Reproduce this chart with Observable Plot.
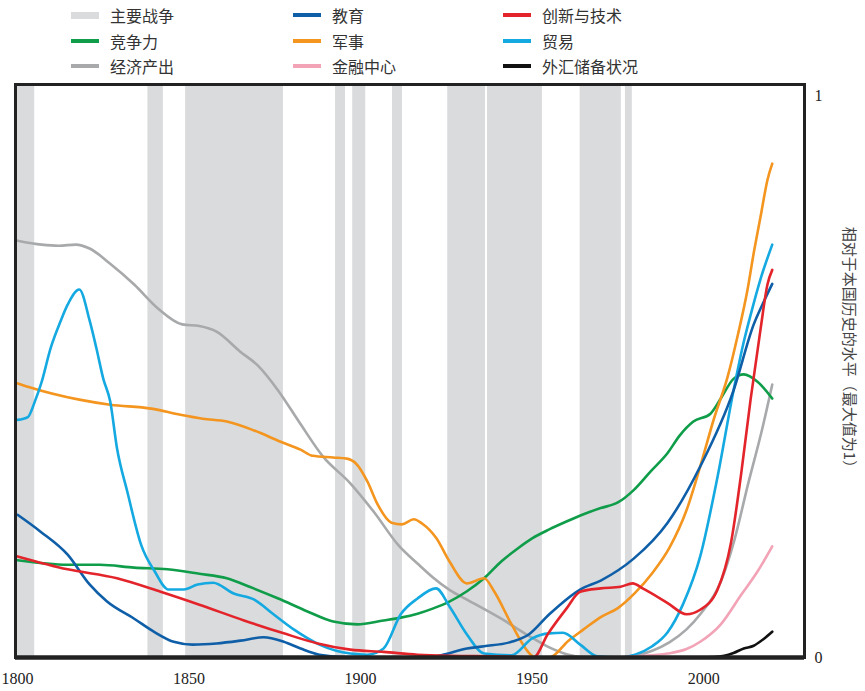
<!DOCTYPE html>
<html><head><meta charset="utf-8">
<script src="https://cdn.jsdelivr.net/npm/d3@7"></script>
<script src="https://cdn.jsdelivr.net/npm/@observablehq/plot@0.6"></script>
<style>
body{margin:0;background:#fff;}
#legend{position:relative;width:865px;height:78px;font-family:"Noto Sans CJK SC",sans-serif;font-size:16px;color:#333;}
.item{position:absolute;display:flex;align-items:center;height:22px;white-space:nowrap;}
.sw{width:28px;margin-right:11px;}
#chart svg{display:block;}
#chart svg g[aria-label="x-axis tick label"] text,
#chart svg g[aria-label="y-axis tick label"] text{font-family:"Liberation Serif","DejaVu Serif",serif !important;}
</style></head><body>
<div id="legend"></div>
<div id="chart"></div>
<script>
// ---- data ----
const xTicks = [1800, 1850, 1900, 1950, 2000];
const yTicks = [0, 1];
const yLabel = "相对于本国历史的水平（最大值为1）";

const warLabel = "主要战争";
const warStarts = [1800, 1838, 1849, 1892.7, 1897.7, 1909.3, 1925.4, 1937, 1964, 1977.2];
const warEnds   = [1805, 1842.5, 1877.5, 1895.6, 1901.5, 1912.2, 1936.4, 1953, 1976, 1979.2];

const seriesNames  = ["经济产出", "竞争力", "军事", "贸易", "教育", "创新与技术", "金融中心", "外汇储备状况"];
const seriesColors = ["#a7a9ab", "#0f9d4a", "#f3951f", "#14a9e1", "#0e5ea8", "#e3242b", "#f2a3b6", "#111111"];

const economy = [[1800,0.742],[1807,0.735],[1812,0.733],[1817,0.735],[1821,0.728],[1827,0.701],[1834,0.664],[1841,0.621],[1848,0.593],[1853,0.59],[1858,0.58],[1865,0.544],[1870,0.52],[1876,0.475],[1882,0.42],[1889,0.358],[1897,0.31],[1904,0.258],[1911,0.2],[1917,0.165],[1921,0.143],[1926,0.12],[1931,0.103],[1941,0.069],[1950,0.035],[1955,0.018],[1960,0.006],[1965,0.001],[1975,0],[1980,0.003],[1985,0.012],[1990,0.027],[1995,0.05],[1999,0.077],[2005,0.135],[2009,0.21],[2013,0.31],[2017,0.405],[2020,0.486]];
const competitiveness = [[1800,0.173],[1814.6,0.165],[1824,0.165],[1834,0.16],[1843.7,0.157],[1853,0.149],[1861,0.141],[1868,0.125],[1876,0.105],[1884.5,0.082],[1892,0.064],[1899,0.059],[1906.7,0.066],[1911.7,0.071],[1916.6,0.078],[1921,0.087],[1926,0.1],[1931,0.118],[1936,0.141],[1941,0.171],[1946,0.195],[1950,0.212],[1955,0.228],[1960,0.242],[1965,0.255],[1970,0.266],[1975,0.276],[1979.6,0.298],[1984.5,0.331],[1989.5,0.364],[1993,0.395],[1997,0.42],[2002,0.434],[2005,0.461],[2008.7,0.496],[2011.7,0.504],[2015.7,0.491],[2020,0.461]];
const military = [[1800,0.488],[1803,0.482],[1818,0.459],[1827,0.45],[1839,0.443],[1847.5,0.432],[1854,0.425],[1861,0.42],[1869,0.404],[1876.7,0.384],[1882.5,0.37],[1886,0.359],[1892,0.356],[1896,0.354],[1899,0.343],[1902,0.313],[1905,0.272],[1909,0.24],[1912,0.237],[1915.5,0.246],[1918,0.238],[1922,0.213],[1926,0.17],[1931,0.132],[1936,0.141],[1939,0.117],[1944,0.059],[1950,0.003],[1951,0],[1955,0],[1960.6,0.03],[1965,0.05],[1970,0.072],[1975,0.088],[1980,0.115],[1985,0.15],[1990,0.195],[1995,0.262],[1999,0.34],[2003,0.425],[2007,0.5],[2010,0.575],[2012.8,0.655],[2014.6,0.72],[2016.6,0.785],[2018.6,0.85],[2020,0.879]];
const trade = [[1800,0.423],[1803,0.428],[1805,0.455],[1807,0.49],[1809.6,0.55],[1812.5,0.598],[1814.6,0.628],[1818,0.655],[1821,0.6],[1823,0.55],[1825,0.496],[1827,0.456],[1829,0.372],[1832,0.295],[1836,0.201],[1840,0.153],[1844,0.121],[1848.5,0.121],[1852.5,0.13],[1857,0.133],[1863,0.114],[1869,0.103],[1874.6,0.077],[1880.5,0.05],[1888,0.023],[1897,0.007],[1902,0.005],[1906.7,0.016],[1911.7,0.077],[1916.6,0.105],[1922,0.123],[1926,0.09],[1931,0.041],[1936,0.007],[1944,0.004],[1950,0.034],[1955,0.043],[1959,0.044],[1964,0.023],[1969,0.002],[1975,0],[1980,0.005],[1985,0.02],[1989.5,0.045],[1994,0.095],[1999,0.18],[2004,0.32],[2008.7,0.475],[2011.7,0.562],[2013.7,0.61],[2016.6,0.674],[2020,0.735]];
const education = [[1800,0.254],[1806.7,0.224],[1814.6,0.183],[1821,0.13],[1826,0.1],[1834,0.069],[1839.7,0.046],[1845.5,0.028],[1851,0.023],[1858,0.025],[1865,0.03],[1871.7,0.036],[1877.6,0.028],[1882.5,0.016],[1888,0.005],[1895,0.001],[1920,0],[1924,0.005],[1931,0.016],[1936,0.02],[1944,0.028],[1949,0.041],[1955,0.077],[1964,0.121],[1970,0.137],[1979.6,0.176],[1989.5,0.24],[1999,0.34],[2008.7,0.475],[2014.6,0.593],[2017.5,0.633],[2020,0.665]];
const innovation = [[1800,0.18],[1814.6,0.157],[1829,0.141],[1841.7,0.117],[1853,0.094],[1866,0.066],[1877.6,0.043],[1887.5,0.025],[1897,0.014],[1906.7,0.01],[1916.6,0.005],[1926,0.003],[1940,0.002],[1950.4,0],[1954.5,0.041],[1960,0.087],[1964,0.117],[1970,0.123],[1975.8,0.126],[1979.3,0.132],[1982.5,0.122],[1989.5,0.097],[1995,0.077],[1999,0.085],[2004,0.12],[2008,0.205],[2011,0.33],[2013.7,0.46],[2016.6,0.585],[2018.6,0.664],[2020,0.69]];
const finance = [[1920,0],[1950,0],[1975,0],[1980,0.002],[1989.5,0.007],[1995,0.015],[1999,0.028],[2005,0.059],[2011,0.112],[2015.7,0.153],[2020,0.198]];
const reserves = [[1960,0],[1995,0],[2003,0.001],[2006,0.003],[2008.7,0.008],[2011.7,0.016],[2014.6,0.021],[2017.5,0.033],[2020,0.046]];

const seriesData = [economy, competitiveness, military, trade, education, innovation, finance, reserves];

// legend layout order (rows x columns)
const legendOrder = [warLabel, "教育", "创新与技术", "竞争力", "军事", "贸易", "经济产出", "金融中心", "外汇储备状况"];

// ---- build ----
const wars = warStarts.map((s, i) => ({start: s, end: warEnds[i]}));
const rows = seriesNames.flatMap((name, i) => seriesData[i].map(([year, value]) => ({series: name, year, value})));
const colorOf = Object.fromEntries(seriesNames.map((n, i) => [n, seriesColors[i]]));

const legend = document.getElementById("legend");
const colLeft = [71, 293, 503];
const rowMid = [15, 41, 66];
legendOrder.forEach((name, k) => {
  const r = Math.floor(k / 3), c = k % 3;
  const item = document.createElement("div");
  item.className = "item";
  item.style.left = colLeft[c] + "px";
  item.style.top = (rowMid[r] - 11) + "px";
  const sw = document.createElement("div");
  sw.className = "sw";
  if (name === warLabel) { sw.style.height = "7px"; sw.style.background = "#d9dbdc"; }
  else { sw.style.height = "4px"; sw.style.background = colorOf[name]; }
  const tx = document.createElement("span");
  tx.textContent = name;
  item.appendChild(sw); item.appendChild(tx);
  legend.appendChild(item);
});

const serif = "Liberation Serif";
const chart = Plot.plot({
  width: 865, height: 613,
  marginTop: 6, marginBottom: 34, marginLeft: 15, marginRight: 61,
  x: {domain: [1799.4, 2029.4]},
  y: {domain: [0, 1.02]},
  color: {domain: seriesNames, range: seriesColors},
  style: {fontSize: "16px", color: "#222", background: "#fff"},
  marks: [
    Plot.rect(wars, {x1: "start", x2: "end", fill: "#d9dbdc"}),
    Plot.line(rows, {x: "year", y: "value", z: "series", stroke: "series", strokeWidth: 2.6, curve: "monotone-x"}),
    Plot.frame({stroke: "#222", strokeWidth: 3}),
    Plot.ruleY([0], {stroke: "#222", strokeWidth: 4.5}),
    Plot.axisX({ticks: xTicks, tickSize: 0, tickPadding: 15, tickFormat: d => String(d), label: null, fontSize: 16, fontFamily: serif, fill: "#222"}),
    Plot.axisY({anchor: "right", ticks: yTicks, tickSize: 0, tickPadding: 10, tickFormat: d => String(d), label: null, fontSize: 16, fontFamily: serif, fill: "#222"}),
    Plot.text([yLabel], {frameAnchor: "right", dx: 44, dy: -20, rotate: 90, textAnchor: "middle", text: d => d, fontSize: 15, fill: "#444", fontFamily: "Noto Sans CJK SC"})
  ]
});
d3.select(chart).selectAll('g[aria-label="x-axis tick label"] text, g[aria-label="y-axis tick label"] text')
  .style("font-family", "'Liberation Serif', 'DejaVu Serif', serif");
document.getElementById("chart").appendChild(chart);
</script>
</body></html>
